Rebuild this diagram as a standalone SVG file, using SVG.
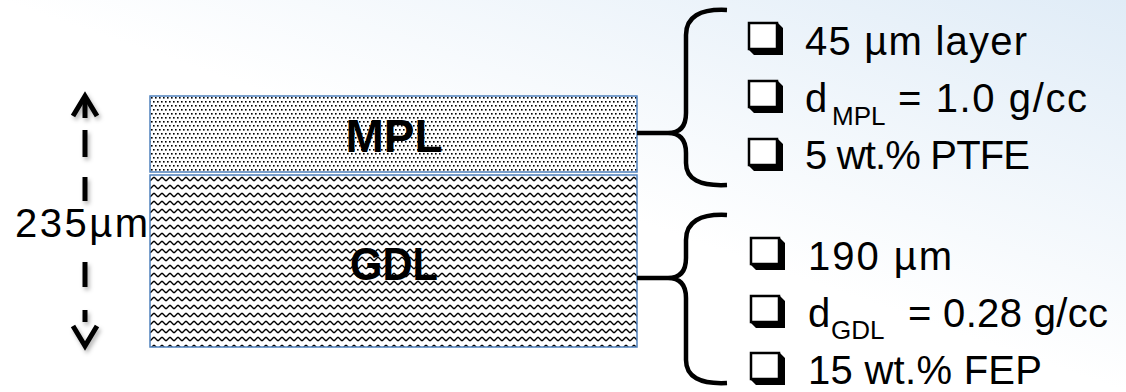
<svg xmlns="http://www.w3.org/2000/svg" width="1126" height="392" viewBox="0 0 1126 392">
  <style>
    .lbl { font-family: "Liberation Sans", Arial, sans-serif; fill: #000; }
    .big { font-size: 40px; }
    .sub { font-size: 26px; }
    .bold { font-size: 46px; font-weight: bold; }
    .layer { stroke: #4f81bd; stroke-width: 1.5; }
    .brace { fill: none; stroke: #000; stroke-width: 4.5; stroke-linecap: butt; }
    .arr { fill: none; stroke: #000; stroke-width: 5; }
  </style>
  <defs>
    <linearGradient id="bg" x1="0" y1="1" x2="1" y2="0">
      <stop offset="0" stop-color="#ffffff"/>
      <stop offset="0.5" stop-color="#ffffff"/>
      <stop offset="1" stop-color="#e0ecf7"/>
    </linearGradient>
    <pattern id="dots" patternUnits="userSpaceOnUse" x="150" y="96" width="4" height="8">
      <rect width="4" height="8" fill="#fff"/>
      <rect x="1" y="1" width="1.6" height="1.6" fill="#000"/>
      <rect x="3" y="5" width="1.6" height="1.6" fill="#000"/>
      <rect x="-1" y="5" width="1.6" height="1.6" fill="#000"/>
    </pattern>
    <pattern id="wave" patternUnits="userSpaceOnUse" x="150" y="175" width="8" height="8">
      <rect width="8" height="8" fill="#fff"/>
      <path d="M-0.5,5.5 L0.5,5.5 L3.5,2.5 L4.5,2.5 L7.5,5.5 L8.5,5.5" fill="none" stroke="#000" stroke-width="1.3"/>
    </pattern>
    <g id="cb">
      <polygon points="29,0 35,6 35,33 6,33 0,27 29,27" fill="#000"/>
      <rect x="1" y="1" width="28" height="26" fill="#fff" stroke="#000" stroke-width="2.5"/>
    </g>
    <filter id="sh" x="-50%" y="-20%" width="200%" height="140%">
      <feDropShadow dx="2" dy="3" stdDeviation="2" flood-color="#000" flood-opacity="0.3"/>
    </filter>
  </defs>

  <rect width="1126" height="392" fill="url(#bg)"/>

  <g id="mpl">
    <rect class="layer" x="150" y="96" width="487" height="76" fill="url(#dots)"/>
    <text class="lbl bold" x="394" y="152" text-anchor="middle">MPL</text>
  </g>

  <g id="gdl">
    <rect class="layer" x="150" y="175" width="487" height="172" fill="url(#wave)"/>
    <text class="lbl bold" x="394" y="280" text-anchor="middle" textLength="88" lengthAdjust="spacingAndGlyphs">GDL</text>
  </g>

  <g id="thickness">
    <g filter="url(#sh)">
      <polyline class="arr" points="73,116 85,96 97,116"/>
      <line class="arr" x1="85" y1="99" x2="85" y2="118"/>
      <line class="arr" x1="85" y1="130" x2="85" y2="157"/>
      <line class="arr" x1="85" y1="177" x2="85" y2="201"/>
      <line class="arr" x1="85" y1="262" x2="85" y2="287"/>
      <line class="arr" x1="85" y1="310" x2="85" y2="322"/>
      <polyline class="arr" points="73,326 85,346 97,326"/>
    </g>
    <text class="lbl big" x="15" y="237" textLength="133">235µm</text>
  </g>

  <g id="connectors">
    <path class="brace" d="M637,133 L672,133 M727,10 Q686,8 686,35 L686,113 Q686,133 668,133 Q686,133 686,153 L686,163 Q686,187 727,185"/>
    <path class="brace" d="M637,278 L672,278 M727,215 Q686,213 686,240 L686,258 Q686,278 668,278 Q686,278 686,298 L686,360 Q686,385 727,383"/>
  </g>

  <g id="mpl-props">
    <use href="#cb" x="748" y="22"/>
    <use href="#cb" x="748" y="80"/>
    <use href="#cb" x="748" y="138"/>
    <text class="lbl big" x="805" y="55" textLength="222">45 µm layer</text>
    <text class="lbl big" x="805" y="112">d<tspan class="sub" x="832" y="125">MPL</tspan><tspan x="898" y="112" textLength="189">= 1.0 g/cc</tspan></text>
    <text class="lbl big" x="805" y="169" textLength="225">5 wt.% PTFE</text>
  </g>

  <g id="gdl-props">
    <use href="#cb" x="750" y="237"/>
    <use href="#cb" x="750" y="295"/>
    <use href="#cb" x="750" y="352"/>
    <text class="lbl big" x="808" y="270" textLength="144">190 µm</text>
    <text class="lbl big" x="808" y="327">d<tspan class="sub" x="831" y="339">GDL</tspan><tspan x="908" y="327" textLength="200">= 0.28 g/cc</tspan></text>
    <text class="lbl big" x="808" y="384" textLength="234">15 wt.% FEP</text>
  </g>
</svg>
